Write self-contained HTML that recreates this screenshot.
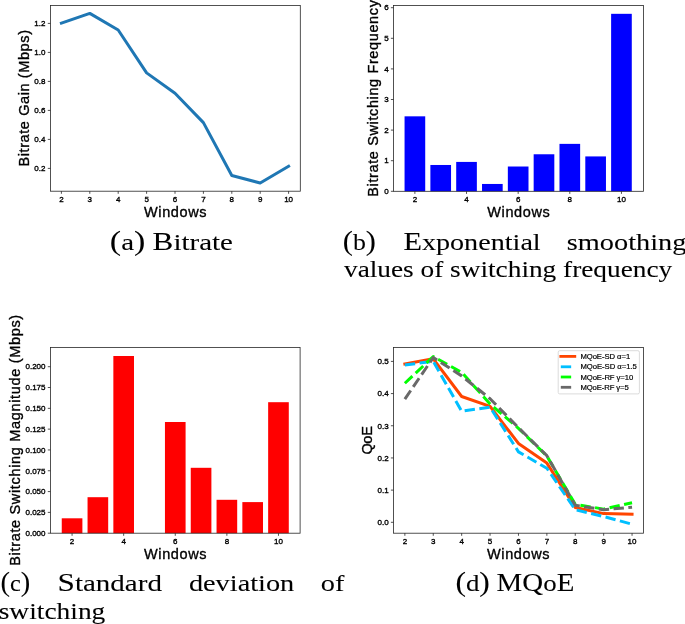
<!DOCTYPE html>
<html><head><meta charset="utf-8"><style>
html,body{margin:0;padding:0;background:#fff;}
svg{display:block;font-family:"Liberation Sans", sans-serif;will-change:transform;}
</style></head><body>
<svg width="685" height="624" viewBox="0 0 685 624">

<polyline points="61.40,23.20 89.80,13.40 118.20,30.00 146.60,72.90 175.00,93.20 203.40,122.60 231.80,175.50 260.20,183.00 288.60,166.30" fill="none" stroke="#1f77b4" stroke-width="3.0" stroke-linejoin="round" stroke-linecap="square"/>
<rect x="50.40" y="5.40" width="249.90" height="185.80" fill="none" stroke="#262626" stroke-width="0.8"/>
<line x1="61.40" y1="191.20" x2="61.40" y2="193.80" stroke="#262626" stroke-width="0.8"/>
<text x="61.40" y="202.00" font-size="8.0" text-anchor="middle" textLength="4.45" lengthAdjust="spacingAndGlyphs" fill="#000" stroke="#000" stroke-width="0.35">2</text>
<line x1="89.80" y1="191.20" x2="89.80" y2="193.80" stroke="#262626" stroke-width="0.8"/>
<text x="89.80" y="202.00" font-size="8.0" text-anchor="middle" textLength="4.45" lengthAdjust="spacingAndGlyphs" fill="#000" stroke="#000" stroke-width="0.35">3</text>
<line x1="118.20" y1="191.20" x2="118.20" y2="193.80" stroke="#262626" stroke-width="0.8"/>
<text x="118.20" y="202.00" font-size="8.0" text-anchor="middle" textLength="4.45" lengthAdjust="spacingAndGlyphs" fill="#000" stroke="#000" stroke-width="0.35">4</text>
<line x1="146.60" y1="191.20" x2="146.60" y2="193.80" stroke="#262626" stroke-width="0.8"/>
<text x="146.60" y="202.00" font-size="8.0" text-anchor="middle" textLength="4.45" lengthAdjust="spacingAndGlyphs" fill="#000" stroke="#000" stroke-width="0.35">5</text>
<line x1="175.00" y1="191.20" x2="175.00" y2="193.80" stroke="#262626" stroke-width="0.8"/>
<text x="175.00" y="202.00" font-size="8.0" text-anchor="middle" textLength="4.45" lengthAdjust="spacingAndGlyphs" fill="#000" stroke="#000" stroke-width="0.35">6</text>
<line x1="203.40" y1="191.20" x2="203.40" y2="193.80" stroke="#262626" stroke-width="0.8"/>
<text x="203.40" y="202.00" font-size="8.0" text-anchor="middle" textLength="4.45" lengthAdjust="spacingAndGlyphs" fill="#000" stroke="#000" stroke-width="0.35">7</text>
<line x1="231.80" y1="191.20" x2="231.80" y2="193.80" stroke="#262626" stroke-width="0.8"/>
<text x="231.80" y="202.00" font-size="8.0" text-anchor="middle" textLength="4.45" lengthAdjust="spacingAndGlyphs" fill="#000" stroke="#000" stroke-width="0.35">8</text>
<line x1="260.20" y1="191.20" x2="260.20" y2="193.80" stroke="#262626" stroke-width="0.8"/>
<text x="260.20" y="202.00" font-size="8.0" text-anchor="middle" textLength="4.45" lengthAdjust="spacingAndGlyphs" fill="#000" stroke="#000" stroke-width="0.35">9</text>
<line x1="288.60" y1="191.20" x2="288.60" y2="193.80" stroke="#262626" stroke-width="0.8"/>
<text x="288.60" y="202.00" font-size="8.0" text-anchor="middle" textLength="8.91" lengthAdjust="spacingAndGlyphs" fill="#000" stroke="#000" stroke-width="0.35">10</text>
<line x1="47.80" y1="168.40" x2="50.40" y2="168.40" stroke="#262626" stroke-width="0.8"/>
<text x="39.93" y="171.15" font-size="8.0" text-anchor="middle" textLength="11.13" lengthAdjust="spacingAndGlyphs" fill="#000" stroke="#000" stroke-width="0.35">0.2</text>
<line x1="47.80" y1="139.40" x2="50.40" y2="139.40" stroke="#262626" stroke-width="0.8"/>
<text x="39.93" y="142.15" font-size="8.0" text-anchor="middle" textLength="11.13" lengthAdjust="spacingAndGlyphs" fill="#000" stroke="#000" stroke-width="0.35">0.4</text>
<line x1="47.80" y1="110.40" x2="50.40" y2="110.40" stroke="#262626" stroke-width="0.8"/>
<text x="39.93" y="113.15" font-size="8.0" text-anchor="middle" textLength="11.13" lengthAdjust="spacingAndGlyphs" fill="#000" stroke="#000" stroke-width="0.35">0.6</text>
<line x1="47.80" y1="81.40" x2="50.40" y2="81.40" stroke="#262626" stroke-width="0.8"/>
<text x="39.93" y="84.15" font-size="8.0" text-anchor="middle" textLength="11.13" lengthAdjust="spacingAndGlyphs" fill="#000" stroke="#000" stroke-width="0.35">0.8</text>
<line x1="47.80" y1="52.40" x2="50.40" y2="52.40" stroke="#262626" stroke-width="0.8"/>
<text x="39.93" y="55.15" font-size="8.0" text-anchor="middle" textLength="11.13" lengthAdjust="spacingAndGlyphs" fill="#000" stroke="#000" stroke-width="0.35">1.0</text>
<line x1="47.80" y1="23.40" x2="50.40" y2="23.40" stroke="#262626" stroke-width="0.8"/>
<text x="39.93" y="26.15" font-size="8.0" text-anchor="middle" textLength="11.13" lengthAdjust="spacingAndGlyphs" fill="#000" stroke="#000" stroke-width="0.35">1.2</text>
<text x="28.60" y="98.30" font-size="14.5" text-anchor="middle" textLength="136.58" lengthAdjust="spacing" transform="rotate(-90 28.60 98.30)" fill="#000" stroke="#000" stroke-width="0.35">Bitrate Gain (Mbps)</text>
<text x="175.30" y="216.80" font-size="14.5" text-anchor="middle" textLength="62.49" lengthAdjust="spacing" fill="#000" stroke="#000" stroke-width="0.35">Windows</text>
<rect x="404.56" y="116.33" width="20.66" height="74.97" fill="#0000ff"/>
<rect x="430.38" y="164.98" width="20.66" height="26.32" fill="#0000ff"/>
<rect x="456.20" y="161.92" width="20.66" height="29.38" fill="#0000ff"/>
<rect x="482.02" y="183.96" width="20.66" height="7.34" fill="#0000ff"/>
<rect x="507.84" y="166.51" width="20.66" height="24.79" fill="#0000ff"/>
<rect x="533.66" y="154.27" width="20.66" height="37.03" fill="#0000ff"/>
<rect x="559.48" y="143.87" width="20.66" height="47.43" fill="#0000ff"/>
<rect x="585.30" y="156.42" width="20.66" height="34.88" fill="#0000ff"/>
<rect x="611.12" y="13.82" width="20.66" height="177.48" fill="#0000ff"/>
<rect x="393.50" y="5.50" width="250.10" height="185.80" fill="none" stroke="#262626" stroke-width="0.8"/>
<line x1="414.89" y1="191.30" x2="414.89" y2="193.90" stroke="#262626" stroke-width="0.8"/>
<text x="414.89" y="202.10" font-size="8.0" text-anchor="middle" textLength="4.45" lengthAdjust="spacingAndGlyphs" fill="#000" stroke="#000" stroke-width="0.35">2</text>
<line x1="466.53" y1="191.30" x2="466.53" y2="193.90" stroke="#262626" stroke-width="0.8"/>
<text x="466.53" y="202.10" font-size="8.0" text-anchor="middle" textLength="4.45" lengthAdjust="spacingAndGlyphs" fill="#000" stroke="#000" stroke-width="0.35">4</text>
<line x1="518.17" y1="191.30" x2="518.17" y2="193.90" stroke="#262626" stroke-width="0.8"/>
<text x="518.17" y="202.10" font-size="8.0" text-anchor="middle" textLength="4.45" lengthAdjust="spacingAndGlyphs" fill="#000" stroke="#000" stroke-width="0.35">6</text>
<line x1="569.81" y1="191.30" x2="569.81" y2="193.90" stroke="#262626" stroke-width="0.8"/>
<text x="569.81" y="202.10" font-size="8.0" text-anchor="middle" textLength="4.45" lengthAdjust="spacingAndGlyphs" fill="#000" stroke="#000" stroke-width="0.35">8</text>
<line x1="621.45" y1="191.30" x2="621.45" y2="193.90" stroke="#262626" stroke-width="0.8"/>
<text x="621.45" y="202.10" font-size="8.0" text-anchor="middle" textLength="8.91" lengthAdjust="spacingAndGlyphs" fill="#000" stroke="#000" stroke-width="0.35">10</text>
<line x1="390.90" y1="191.30" x2="393.50" y2="191.30" stroke="#262626" stroke-width="0.8"/>
<text x="386.37" y="194.05" font-size="8.0" text-anchor="middle" textLength="4.45" lengthAdjust="spacingAndGlyphs" fill="#000" stroke="#000" stroke-width="0.35">0</text>
<line x1="390.90" y1="160.70" x2="393.50" y2="160.70" stroke="#262626" stroke-width="0.8"/>
<text x="386.37" y="163.45" font-size="8.0" text-anchor="middle" textLength="4.45" lengthAdjust="spacingAndGlyphs" fill="#000" stroke="#000" stroke-width="0.35">1</text>
<line x1="390.90" y1="130.10" x2="393.50" y2="130.10" stroke="#262626" stroke-width="0.8"/>
<text x="386.37" y="132.85" font-size="8.0" text-anchor="middle" textLength="4.45" lengthAdjust="spacingAndGlyphs" fill="#000" stroke="#000" stroke-width="0.35">2</text>
<line x1="390.90" y1="99.50" x2="393.50" y2="99.50" stroke="#262626" stroke-width="0.8"/>
<text x="386.37" y="102.25" font-size="8.0" text-anchor="middle" textLength="4.45" lengthAdjust="spacingAndGlyphs" fill="#000" stroke="#000" stroke-width="0.35">3</text>
<line x1="390.90" y1="68.90" x2="393.50" y2="68.90" stroke="#262626" stroke-width="0.8"/>
<text x="386.37" y="71.65" font-size="8.0" text-anchor="middle" textLength="4.45" lengthAdjust="spacingAndGlyphs" fill="#000" stroke="#000" stroke-width="0.35">4</text>
<line x1="390.90" y1="38.30" x2="393.50" y2="38.30" stroke="#262626" stroke-width="0.8"/>
<text x="386.37" y="41.05" font-size="8.0" text-anchor="middle" textLength="4.45" lengthAdjust="spacingAndGlyphs" fill="#000" stroke="#000" stroke-width="0.35">5</text>
<line x1="390.90" y1="7.70" x2="393.50" y2="7.70" stroke="#262626" stroke-width="0.8"/>
<text x="386.37" y="10.45" font-size="8.0" text-anchor="middle" textLength="4.45" lengthAdjust="spacingAndGlyphs" fill="#000" stroke="#000" stroke-width="0.35">6</text>
<text x="378.30" y="98.40" font-size="14.5" text-anchor="middle" textLength="196.58" lengthAdjust="spacing" transform="rotate(-90 378.30 98.40)" fill="#000" stroke="#000" stroke-width="0.35">Bitrate Switching Frequency</text>
<text x="518.50" y="216.70" font-size="14.5" text-anchor="middle" textLength="62.49" lengthAdjust="spacing" fill="#000" stroke="#000" stroke-width="0.35">Windows</text>
<rect x="61.75" y="518.30" width="20.64" height="14.90" fill="#ff0000"/>
<rect x="87.55" y="497.20" width="20.64" height="36.00" fill="#ff0000"/>
<rect x="113.35" y="356.00" width="20.64" height="177.20" fill="#ff0000"/>
<rect x="164.95" y="422.00" width="20.64" height="111.20" fill="#ff0000"/>
<rect x="190.75" y="467.80" width="20.64" height="65.40" fill="#ff0000"/>
<rect x="216.55" y="499.80" width="20.64" height="33.40" fill="#ff0000"/>
<rect x="242.35" y="502.10" width="20.64" height="31.10" fill="#ff0000"/>
<rect x="268.15" y="402.20" width="20.64" height="131.00" fill="#ff0000"/>
<rect x="50.40" y="347.40" width="249.70" height="185.80" fill="none" stroke="#262626" stroke-width="0.8"/>
<line x1="72.07" y1="533.20" x2="72.07" y2="535.80" stroke="#262626" stroke-width="0.8"/>
<text x="72.07" y="544.00" font-size="8.0" text-anchor="middle" textLength="4.45" lengthAdjust="spacingAndGlyphs" fill="#000" stroke="#000" stroke-width="0.35">2</text>
<line x1="123.67" y1="533.20" x2="123.67" y2="535.80" stroke="#262626" stroke-width="0.8"/>
<text x="123.67" y="544.00" font-size="8.0" text-anchor="middle" textLength="4.45" lengthAdjust="spacingAndGlyphs" fill="#000" stroke="#000" stroke-width="0.35">4</text>
<line x1="175.27" y1="533.20" x2="175.27" y2="535.80" stroke="#262626" stroke-width="0.8"/>
<text x="175.27" y="544.00" font-size="8.0" text-anchor="middle" textLength="4.45" lengthAdjust="spacingAndGlyphs" fill="#000" stroke="#000" stroke-width="0.35">6</text>
<line x1="226.87" y1="533.20" x2="226.87" y2="535.80" stroke="#262626" stroke-width="0.8"/>
<text x="226.87" y="544.00" font-size="8.0" text-anchor="middle" textLength="4.45" lengthAdjust="spacingAndGlyphs" fill="#000" stroke="#000" stroke-width="0.35">8</text>
<line x1="278.47" y1="533.20" x2="278.47" y2="535.80" stroke="#262626" stroke-width="0.8"/>
<text x="278.47" y="544.00" font-size="8.0" text-anchor="middle" textLength="8.91" lengthAdjust="spacingAndGlyphs" fill="#000" stroke="#000" stroke-width="0.35">10</text>
<line x1="47.80" y1="533.20" x2="50.40" y2="533.20" stroke="#262626" stroke-width="0.8"/>
<text x="35.48" y="535.95" font-size="8.0" text-anchor="middle" textLength="20.04" lengthAdjust="spacingAndGlyphs" fill="#000" stroke="#000" stroke-width="0.35">0.000</text>
<line x1="47.80" y1="512.39" x2="50.40" y2="512.39" stroke="#262626" stroke-width="0.8"/>
<text x="35.48" y="515.14" font-size="8.0" text-anchor="middle" textLength="20.04" lengthAdjust="spacingAndGlyphs" fill="#000" stroke="#000" stroke-width="0.35">0.025</text>
<line x1="47.80" y1="491.58" x2="50.40" y2="491.58" stroke="#262626" stroke-width="0.8"/>
<text x="35.48" y="494.33" font-size="8.0" text-anchor="middle" textLength="20.04" lengthAdjust="spacingAndGlyphs" fill="#000" stroke="#000" stroke-width="0.35">0.050</text>
<line x1="47.80" y1="470.76" x2="50.40" y2="470.76" stroke="#262626" stroke-width="0.8"/>
<text x="35.48" y="473.51" font-size="8.0" text-anchor="middle" textLength="20.04" lengthAdjust="spacingAndGlyphs" fill="#000" stroke="#000" stroke-width="0.35">0.075</text>
<line x1="47.80" y1="449.95" x2="50.40" y2="449.95" stroke="#262626" stroke-width="0.8"/>
<text x="35.48" y="452.70" font-size="8.0" text-anchor="middle" textLength="20.04" lengthAdjust="spacingAndGlyphs" fill="#000" stroke="#000" stroke-width="0.35">0.100</text>
<line x1="47.80" y1="429.14" x2="50.40" y2="429.14" stroke="#262626" stroke-width="0.8"/>
<text x="35.48" y="431.89" font-size="8.0" text-anchor="middle" textLength="20.04" lengthAdjust="spacingAndGlyphs" fill="#000" stroke="#000" stroke-width="0.35">0.125</text>
<line x1="47.80" y1="408.33" x2="50.40" y2="408.33" stroke="#262626" stroke-width="0.8"/>
<text x="35.48" y="411.08" font-size="8.0" text-anchor="middle" textLength="20.04" lengthAdjust="spacingAndGlyphs" fill="#000" stroke="#000" stroke-width="0.35">0.150</text>
<line x1="47.80" y1="387.51" x2="50.40" y2="387.51" stroke="#262626" stroke-width="0.8"/>
<text x="35.48" y="390.26" font-size="8.0" text-anchor="middle" textLength="20.04" lengthAdjust="spacingAndGlyphs" fill="#000" stroke="#000" stroke-width="0.35">0.175</text>
<line x1="47.80" y1="366.70" x2="50.40" y2="366.70" stroke="#262626" stroke-width="0.8"/>
<text x="35.48" y="369.45" font-size="8.0" text-anchor="middle" textLength="20.04" lengthAdjust="spacingAndGlyphs" fill="#000" stroke="#000" stroke-width="0.35">0.200</text>
<text x="19.60" y="440.30" font-size="14.5" text-anchor="middle" textLength="250.95" lengthAdjust="spacing" transform="rotate(-90 19.60 440.30)" fill="#000" stroke="#000" stroke-width="0.35">Bitrate Switching Magnitude (Mbps)</text>
<text x="175.30" y="558.60" font-size="14.5" text-anchor="middle" textLength="62.49" lengthAdjust="spacing" fill="#000" stroke="#000" stroke-width="0.35">Windows</text>
<clipPath id="cd"><rect x="393.5" y="347.4" width="249.89999999999998" height="185.80000000000007"/></clipPath>
<g clip-path="url(#cd)">
<polyline points="404.86,363.97 433.26,358.83 461.66,396.48 490.06,406.45 518.46,443.46 546.86,463.09 575.26,507.50 603.66,513.61 632.06,514.25" fill="none" stroke="#ff4500" stroke-width="3.0" stroke-linejoin="round" stroke-linecap="square"/>
<polyline points="404.86,364.94 433.26,361.40 461.66,411.28 490.06,407.10 518.46,451.83 546.86,468.24 575.26,509.75 603.66,516.51 632.06,524.23" fill="none" stroke="#00bfff" stroke-width="3.0" stroke-linejoin="round" stroke-dasharray="10.36 4.48" stroke-linecap="butt"/>
<polyline points="404.86,383.28 433.26,356.57 461.66,372.34 490.06,403.88 518.46,428.33 546.86,456.01 575.26,504.28 603.66,509.11 632.06,502.67" fill="none" stroke="#00ff00" stroke-width="3.0" stroke-linejoin="round" stroke-dasharray="10.36 4.48" stroke-linecap="butt"/>
<polyline points="404.86,399.05 433.26,357.54 461.66,375.88 490.06,398.73 518.46,427.69 546.86,455.69 575.26,505.24 603.66,509.75 632.06,507.18" fill="none" stroke="#696969" stroke-width="3.0" stroke-linejoin="round" stroke-dasharray="10.36 4.48" stroke-linecap="butt"/>
</g>
<rect x="558.2" y="350.7" width="81.2" height="43.2" rx="1.5" fill="#ffffff" fill-opacity="0.8" stroke="#cccccc" stroke-width="0.7"/>
<line x1="560.8" y1="356.4" x2="574.8" y2="356.4" stroke="#ff4500" stroke-width="2.8" stroke-linecap="square"/>
<text x="580.40" y="358.90" font-size="7.7" text-anchor="start" textLength="49.77" lengthAdjust="spacing" fill="#000" stroke="#000" stroke-width="0.2">MQoE-SD α=1</text>
<line x1="560.8" y1="366.8" x2="574.8" y2="366.8" stroke="#00bfff" stroke-width="2.8" stroke-dasharray="10.36 4.48" stroke-linecap="butt"/>
<text x="580.40" y="369.30" font-size="7.7" text-anchor="start" textLength="56.45" lengthAdjust="spacing" fill="#000" stroke="#000" stroke-width="0.2">MQoE-SD α=1.5</text>
<line x1="560.8" y1="377.0" x2="574.8" y2="377.0" stroke="#00ff00" stroke-width="2.8" stroke-dasharray="10.36 4.48" stroke-linecap="butt"/>
<text x="580.40" y="379.50" font-size="7.7" text-anchor="start" textLength="52.81" lengthAdjust="spacing" fill="#000" stroke="#000" stroke-width="0.2">MQoE-RF γ=10</text>
<line x1="560.8" y1="387.3" x2="574.8" y2="387.3" stroke="#696969" stroke-width="2.8" stroke-dasharray="10.36 4.48" stroke-linecap="butt"/>
<text x="580.40" y="389.80" font-size="7.7" text-anchor="start" textLength="48.36" lengthAdjust="spacing" fill="#000" stroke="#000" stroke-width="0.2">MQoE-RF γ=5</text>
<rect x="393.50" y="347.40" width="249.90" height="185.80" fill="none" stroke="#262626" stroke-width="0.8"/>
<line x1="404.86" y1="533.20" x2="404.86" y2="535.80" stroke="#262626" stroke-width="0.8"/>
<text x="404.86" y="544.00" font-size="8.0" text-anchor="middle" textLength="4.45" lengthAdjust="spacingAndGlyphs" fill="#000" stroke="#000" stroke-width="0.35">2</text>
<line x1="433.26" y1="533.20" x2="433.26" y2="535.80" stroke="#262626" stroke-width="0.8"/>
<text x="433.26" y="544.00" font-size="8.0" text-anchor="middle" textLength="4.45" lengthAdjust="spacingAndGlyphs" fill="#000" stroke="#000" stroke-width="0.35">3</text>
<line x1="461.66" y1="533.20" x2="461.66" y2="535.80" stroke="#262626" stroke-width="0.8"/>
<text x="461.66" y="544.00" font-size="8.0" text-anchor="middle" textLength="4.45" lengthAdjust="spacingAndGlyphs" fill="#000" stroke="#000" stroke-width="0.35">4</text>
<line x1="490.06" y1="533.20" x2="490.06" y2="535.80" stroke="#262626" stroke-width="0.8"/>
<text x="490.06" y="544.00" font-size="8.0" text-anchor="middle" textLength="4.45" lengthAdjust="spacingAndGlyphs" fill="#000" stroke="#000" stroke-width="0.35">5</text>
<line x1="518.46" y1="533.20" x2="518.46" y2="535.80" stroke="#262626" stroke-width="0.8"/>
<text x="518.46" y="544.00" font-size="8.0" text-anchor="middle" textLength="4.45" lengthAdjust="spacingAndGlyphs" fill="#000" stroke="#000" stroke-width="0.35">6</text>
<line x1="546.86" y1="533.20" x2="546.86" y2="535.80" stroke="#262626" stroke-width="0.8"/>
<text x="546.86" y="544.00" font-size="8.0" text-anchor="middle" textLength="4.45" lengthAdjust="spacingAndGlyphs" fill="#000" stroke="#000" stroke-width="0.35">7</text>
<line x1="575.26" y1="533.20" x2="575.26" y2="535.80" stroke="#262626" stroke-width="0.8"/>
<text x="575.26" y="544.00" font-size="8.0" text-anchor="middle" textLength="4.45" lengthAdjust="spacingAndGlyphs" fill="#000" stroke="#000" stroke-width="0.35">8</text>
<line x1="603.66" y1="533.20" x2="603.66" y2="535.80" stroke="#262626" stroke-width="0.8"/>
<text x="603.66" y="544.00" font-size="8.0" text-anchor="middle" textLength="4.45" lengthAdjust="spacingAndGlyphs" fill="#000" stroke="#000" stroke-width="0.35">9</text>
<line x1="632.06" y1="533.20" x2="632.06" y2="535.80" stroke="#262626" stroke-width="0.8"/>
<text x="632.06" y="544.00" font-size="8.0" text-anchor="middle" textLength="8.91" lengthAdjust="spacingAndGlyphs" fill="#000" stroke="#000" stroke-width="0.35">10</text>
<line x1="390.90" y1="522.30" x2="393.50" y2="522.30" stroke="#262626" stroke-width="0.8"/>
<text x="383.03" y="525.05" font-size="8.0" text-anchor="middle" textLength="11.13" lengthAdjust="spacingAndGlyphs" fill="#000" stroke="#000" stroke-width="0.35">0.0</text>
<line x1="390.90" y1="490.12" x2="393.50" y2="490.12" stroke="#262626" stroke-width="0.8"/>
<text x="383.03" y="492.87" font-size="8.0" text-anchor="middle" textLength="11.13" lengthAdjust="spacingAndGlyphs" fill="#000" stroke="#000" stroke-width="0.35">0.1</text>
<line x1="390.90" y1="457.94" x2="393.50" y2="457.94" stroke="#262626" stroke-width="0.8"/>
<text x="383.03" y="460.69" font-size="8.0" text-anchor="middle" textLength="11.13" lengthAdjust="spacingAndGlyphs" fill="#000" stroke="#000" stroke-width="0.35">0.2</text>
<line x1="390.90" y1="425.76" x2="393.50" y2="425.76" stroke="#262626" stroke-width="0.8"/>
<text x="383.03" y="428.51" font-size="8.0" text-anchor="middle" textLength="11.13" lengthAdjust="spacingAndGlyphs" fill="#000" stroke="#000" stroke-width="0.35">0.3</text>
<line x1="390.90" y1="393.58" x2="393.50" y2="393.58" stroke="#262626" stroke-width="0.8"/>
<text x="383.03" y="396.33" font-size="8.0" text-anchor="middle" textLength="11.13" lengthAdjust="spacingAndGlyphs" fill="#000" stroke="#000" stroke-width="0.35">0.4</text>
<line x1="390.90" y1="361.40" x2="393.50" y2="361.40" stroke="#262626" stroke-width="0.8"/>
<text x="383.03" y="364.15" font-size="8.0" text-anchor="middle" textLength="11.13" lengthAdjust="spacingAndGlyphs" fill="#000" stroke="#000" stroke-width="0.35">0.5</text>
<text x="371.80" y="440.40" font-size="14.5" text-anchor="middle" textLength="28.43" lengthAdjust="spacing" transform="rotate(-90 371.80 440.40)" fill="#000" stroke="#000" stroke-width="0.35">QoE</text>
<text x="518.30" y="558.60" font-size="14.5" text-anchor="middle" textLength="62.49" lengthAdjust="spacing" fill="#000" stroke="#000" stroke-width="0.35">Windows</text>
<text x="109.80" y="250.00" font-family='"Liberation Serif", serif' font-size="23.8" textLength="123.10" lengthAdjust="spacingAndGlyphs" stroke="#000" stroke-width="0.08"><tspan font-size="28.0">(</tspan>a<tspan font-size="28.0">)</tspan> <tspan font-size="25.6">B</tspan>itrate</text>
<text x="342.80" y="250.00" font-family='"Liberation Serif", serif' font-size="23.8" textLength="33.20" lengthAdjust="spacingAndGlyphs" stroke="#000" stroke-width="0.08"><tspan font-size="28.0">(</tspan>b<tspan font-size="28.0">)</tspan></text>
<text x="403.40" y="250.00" font-family='"Liberation Serif", serif' font-size="23.8" textLength="137.30" lengthAdjust="spacingAndGlyphs" stroke="#000" stroke-width="0.08"><tspan font-size="25.6">E</tspan>xponential</text>
<text x="566.80" y="250.00" font-family='"Liberation Serif", serif' font-size="23.8" textLength="119.60" lengthAdjust="spacingAndGlyphs" stroke="#000" stroke-width="0.08">smoothing</text>
<text x="344.00" y="276.80" font-family='"Liberation Serif", serif' font-size="23.8" textLength="328.20" lengthAdjust="spacingAndGlyphs" stroke="#000" stroke-width="0.08">values of switching frequency</text>
<text x="0.60" y="590.90" font-family='"Liberation Serif", serif' font-size="23.8" textLength="29.80" lengthAdjust="spacingAndGlyphs" stroke="#000" stroke-width="0.08"><tspan font-size="28.0">(</tspan>c<tspan font-size="28.0">)</tspan></text>
<text x="57.60" y="590.90" font-family='"Liberation Serif", serif' font-size="23.8" textLength="104.30" lengthAdjust="spacingAndGlyphs" stroke="#000" stroke-width="0.08"><tspan font-size="25.6">S</tspan>tandard</text>
<text x="188.90" y="590.90" font-family='"Liberation Serif", serif' font-size="23.8" textLength="105.40" lengthAdjust="spacingAndGlyphs" stroke="#000" stroke-width="0.08">deviation</text>
<text x="320.80" y="590.90" font-family='"Liberation Serif", serif' font-size="23.8" textLength="23.60" lengthAdjust="spacingAndGlyphs" stroke="#000" stroke-width="0.08">of</text>
<text x="-1.30" y="618.80" font-family='"Liberation Serif", serif' font-size="23.8" textLength="106.60" lengthAdjust="spacingAndGlyphs" stroke="#000" stroke-width="0.08">switching</text>
<text x="455.40" y="590.60" font-family='"Liberation Serif", serif' font-size="23.8" textLength="118.90" lengthAdjust="spacingAndGlyphs" stroke="#000" stroke-width="0.08"><tspan font-size="28.0">(</tspan>d<tspan font-size="28.0">)</tspan> <tspan font-size="25.6">M</tspan><tspan font-size="25.6">Q</tspan>o<tspan font-size="25.6">E</tspan></text>
</svg>
</body></html>
